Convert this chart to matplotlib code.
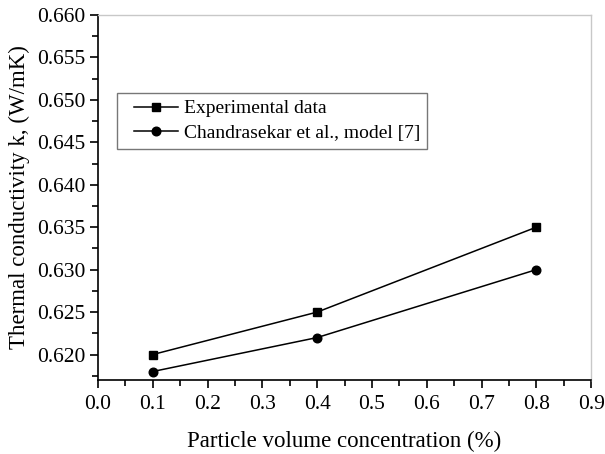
import matplotlib.pyplot as plt
from matplotlib.lines import Line2D
from matplotlib.legend_handler import HandlerLine2D
from matplotlib.ticker import MultipleLocator, FormatStrFormatter

plt.rcParams['font.family'] = ['Liberation Serif', 'DejaVu Serif']

# Data
conc = [0.1, 0.4, 0.8]
k_exp = [0.620, 0.625, 0.635]
k_model = [0.618, 0.622, 0.630]

fig = plt.figure(figsize=(6.05, 4.54), dpi=100)
ax = fig.add_axes([0.162, 0.163, 0.815, 0.804])

ax.plot(conc, k_exp, color="black", lw=1.1, marker="s", ms=5.5,
        label="Experimental data")
ax.plot(conc, k_model, color="black", lw=1.1, marker="o", ms=6.2,
        label="Chandrasekar et al., model [7]")

ax.set_xlim(0.0, 0.9)
ax.set_ylim(0.617, 0.660)
ax.xaxis.set_major_locator(MultipleLocator(0.1))
ax.xaxis.set_minor_locator(MultipleLocator(0.05))
ax.yaxis.set_major_locator(MultipleLocator(0.005))
ax.yaxis.set_minor_locator(MultipleLocator(0.0025))
ax.xaxis.set_major_formatter(FormatStrFormatter("%.1f"))
ax.yaxis.set_major_formatter(FormatStrFormatter("%.3f"))
ax.tick_params(which="both", direction="out", labelsize=15.5, width=1.2,
               top=False, right=False)
ax.tick_params(which="major", length=6)
ax.tick_params(which="minor", length=4)
ax.tick_params(axis="x", pad=5)
ax.tick_params(axis="y", pad=3)

for s in ["left", "bottom"]:
    ax.spines[s].set_linewidth(1.2)
for s in ["top", "right"]:
    ax.spines[s].set_color("#c8c8c8")
    ax.spines[s].set_linewidth(1.0)

ax.set_xlabel("Particle volume concentration (%)", fontsize=16.5, labelpad=12)
ax.set_ylabel("Thermal conductivity k, (W/mK)", fontsize=16.5, labelpad=5)

leg = ax.legend(loc="upper left", bbox_to_anchor=(0.0, 0.786), fontsize=14,
                frameon=True, fancybox=False, edgecolor="#555555",
                handlelength=2.8, handletextpad=0.3, borderpad=0.35,
                labelspacing=0.35, borderaxespad=0,
                handler_map={Line2D: HandlerLine2D(xpad=0.5)})
leg.set_bbox_to_anchor((117 / 605, 1 - 93 / 454), transform=fig.transFigure)
leg.get_frame().set_linewidth(1.0)

fig.savefig("out.png", dpi=100)
